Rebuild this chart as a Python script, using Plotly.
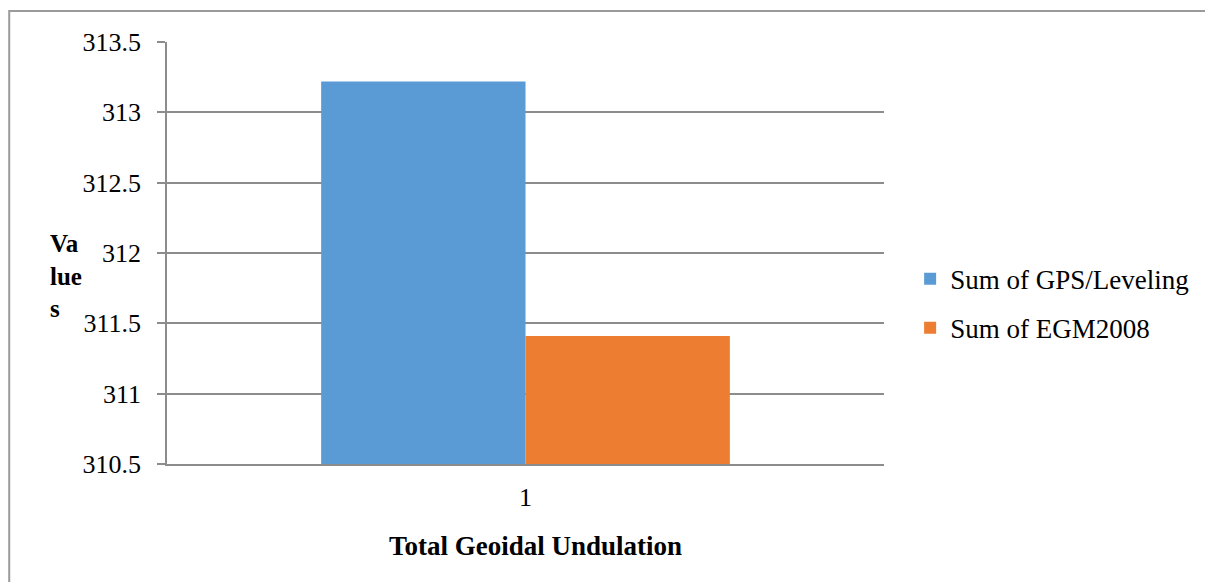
import plotly.graph_objects as go

# Chart data
categories = ["1"]
series_names = ["Sum of GPS/Leveling", "Sum of EGM2008"]
gps_leveling = [313.22]
egm2008 = [311.41]
series_colors = ["#5B9BD5", "#ED7D31"]
y_ticks = [310.5, 311, 311.5, 312, 312.5, 313, 313.5]
x_title = "Total Geoidal Undulation"
y_title_lines = ["Va", "lue", "s"]

FONT = "'Liberation Serif', 'Times New Roman', Times, serif"
GRID = "#8c8c8c"
PLOT_L, PLOT_R, PLOT_T, PLOT_B = 167, 885, 42, 464
PW, PH = PLOT_R - PLOT_L, PLOT_B - PLOT_T


def px_x(x):
    return (x - PLOT_L) / PW


def px_y(y):
    return (PLOT_B - y) / PH


fig = go.Figure()
for name, vals, col in zip(series_names, [gps_leveling, egm2008], series_colors):
    fig.add_trace(go.Bar(
        x=categories, y=vals, name=name, marker=dict(color=col, line=dict(width=0)),
        legendgroup=name,
    ))

fig.update_layout(
    width=1205, height=582,
    margin=dict(l=PLOT_L, r=1205 - PLOT_R, t=PLOT_T, b=582 - PLOT_B),
    paper_bgcolor="white", plot_bgcolor="white",
    barmode="group", bargap=0.43, bargroupgap=0,
    font=dict(family=FONT, size=26, color="black"),
    showlegend=True,
    legend=dict(
        x=1.035, xanchor="left", y=0.38, yanchor="middle",
        traceorder="grouped", tracegroupgap=11,
        font=dict(family=FONT, size=27, color="black"),
        bgcolor="rgba(0,0,0,0)",
    ),
    xaxis=dict(
        type="category", showgrid=False, showline=True, linecolor=GRID, linewidth=1.5,
        ticks="", tickfont=dict(family=FONT, size=26), ticklabelstandoff=9,
    ),
    yaxis=dict(
        range=[310.5, 313.5], tickvals=y_ticks, ticktext=[f"{v:g}" for v in y_ticks],
        showgrid=True, gridcolor=GRID, gridwidth=1.5,
        showline=True, linecolor=GRID, linewidth=1.5,
        ticks="outside", ticklen=8, tickcolor=GRID, tickwidth=1.5,
        tickfont=dict(family=FONT, size=26), ticklabelstandoff=11, zeroline=False,
    ),
    annotations=[
        dict(
            text="<b>" + "<br>".join(y_title_lines) + "</b>", xref="paper", yref="paper",
            x=px_x(48), y=px_y(276), xanchor="left", yanchor="middle",
            align="left", showarrow=False, font=dict(family=FONT, size=25),
        ),
        dict(
            text=f"<b>{x_title}</b>", xref="paper", yref="paper",
            x=px_x(536), y=px_y(546), xanchor="center", yanchor="middle",
            showarrow=False, font=dict(family=FONT, size=27),
        ),
    ],
    shapes=[dict(
        type="rect", xref="paper", yref="paper",
        x0=px_x(9), x1=1.6, y0=-0.6, y1=px_y(11),
        line=dict(color="#9a9a9a", width=2), fillcolor="rgba(0,0,0,0)", layer="below",
    )],
)

fig.write_html("out.html")
